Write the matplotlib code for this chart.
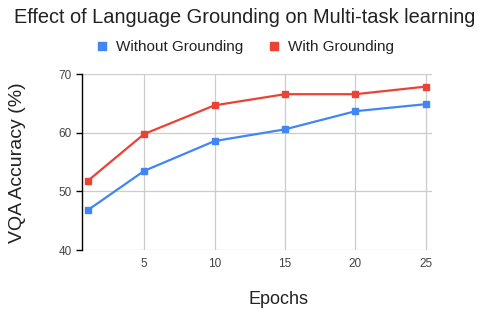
import matplotlib.pyplot as plt

plt.rcParams['font.family'] = ['Liberation Sans', 'DejaVu Sans']

epochs = [1, 5, 10, 15, 20, 25]
without_grounding = [46.8, 53.5, 58.6, 60.6, 63.7, 64.9]
with_grounding = [51.8, 59.8, 64.7, 66.6, 66.6, 67.9]
x_ticks = [5, 10, 15, 20, 25]
y_ticks = [40, 50, 60, 70]

blue = "#4285f4"
red = "#ea4335"

fig = plt.figure(figsize=(4.9, 3.18), dpi=100)
ax = fig.add_axes([0.1667, 0.2138, 0.7149, 0.5526])

ax.plot(epochs, without_grounding, color=blue, lw=1.6, marker="s", ms=5,
        label="Without Grounding", zorder=3)
ax.plot(epochs, with_grounding, color=red, lw=1.6, marker="s", ms=5,
        label="With Grounding", zorder=3)

ax.set_xlim(0.57, 25.43)
ax.set_ylim(40, 70)
ax.set_xticks(x_ticks)
ax.set_yticks(y_ticks)
ax.grid(True, color="#cccccc", lw=0.9)
ax.set_axisbelow(True)

for s in ["top", "right", "bottom"]:
    ax.spines[s].set_visible(False)
ax.spines["left"].set_color("black")
ax.spines["left"].set_linewidth(1.0)

ax.tick_params(axis="x", length=0, pad=6, labelsize=8.5, labelcolor="#444444")
ax.tick_params(axis="y", length=4.3, width=1, color="black", pad=3,
               labelsize=8.5, labelcolor="#444444")

# axis titles
fig.text(278 / 490, 1 - 300 / 318, "Epochs", ha="center", va="center",
         fontsize=13, color="#222222")
fig.text(17 / 490, 1 - 163 / 318, "VQA Accuracy (%)", ha="center", va="center",
         rotation=90, fontsize=14, color="#222222")

fig.text(0.5, 0.945, "Effect of Language Grounding on Multi-task learning",
         ha="center", va="center", fontsize=14.4, color="#222222")
fig.legend(loc="center", bbox_to_anchor=(0.5, 0.852), ncol=2, frameon=False,
           fontsize=11, handlelength=0.8, handletextpad=0.5, columnspacing=1.6,
           labelcolor="#222222")
leg = fig.legends[0]
for h in leg.legend_handles:
    h.set_linestyle("")
    h.set_markersize(6)

fig.savefig("out.png", dpi=100)
